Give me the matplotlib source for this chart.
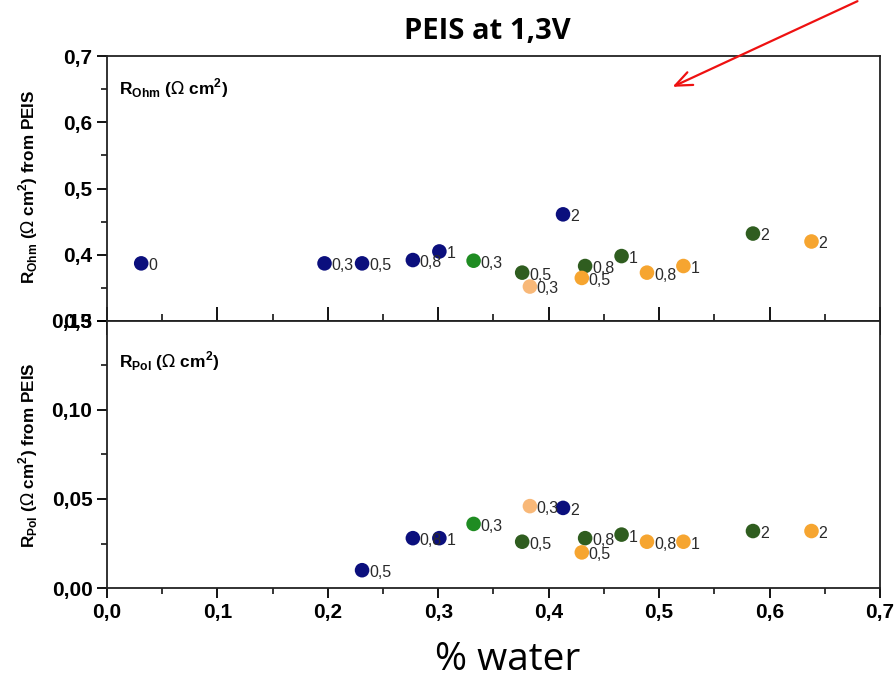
import numpy as np
from matplotlib import pyplot as plt
from matplotlib.patches import FancyArrowPatch
from matplotlib.ticker import MultipleLocator, FuncFormatter

nan = float('nan')

# % water, R_Ohm and R_Pol for each sample series; labels give the voltage step
navy_water = [0.031, 0.197, 0.231, 0.277, 0.301, 0.413]
navy_labels = ['0', '0,3', '0,5', '0,8', '1', '2']
navy_rohm = [0.387, 0.387, 0.387, 0.392, 0.405, 0.461]
navy_rpol = [nan, nan, 0.010, 0.028, 0.028, 0.045]

green_water = [0.332]
green_labels = ['0,3']
green_rohm = [0.391]
green_rpol = [0.036]

dkgreen_water = [0.376, 0.433, 0.466, 0.585]
dkgreen_labels = ['0,5', '0,8', '1', '2']
dkgreen_rohm = [0.373, 0.383, 0.398, 0.432]
dkgreen_rpol = [0.026, 0.028, 0.030, 0.032]

orange_water = [0.430, 0.489, 0.522, 0.638]
orange_labels = ['0,5', '0,8', '1', '2']
orange_rohm = [0.365, 0.373, 0.383, 0.420]
orange_rpol = [0.020, 0.026, 0.026, 0.032]

ltorange_water = [0.383]
ltorange_labels = ['0,3']
ltorange_rohm = [0.352]
ltorange_rpol = [0.046]

series = [
    (navy_water, navy_rohm, navy_rpol, navy_labels, '#0b0f7d'),
    (green_water, green_rohm, green_rpol, green_labels, '#1f8c22'),
    (dkgreen_water, dkgreen_rohm, dkgreen_rpol, dkgreen_labels, '#2f5d1f'),
    (orange_water, orange_rohm, orange_rpol, orange_labels, '#f6a530'),
    (ltorange_water, ltorange_rohm, ltorange_rpol, ltorange_labels, '#f8b878'),
]

plt.rcParams['font.family'] = ['Liberation Sans', 'DejaVu Sans']

fig = plt.figure(figsize=(8.96, 6.85), dpi=100)
fig.patch.set_facecolor('white')
left, width = 0.1194, 0.8627
ax1 = fig.add_axes([left, 0.5314, width, 0.3868])
ax2 = fig.add_axes([left, 0.1416, width, 0.3898], sharex=ax1)

comma = FuncFormatter(lambda v, p: f'{v:.1f}'.replace('.', ','))
comma2 = FuncFormatter(lambda v, p: f'{v:.2f}'.replace('.', ','))


def scatter_panel(ax, idx):
    for s in series:
        x = np.array(s[0])
        y = np.array(s[idx])
        ax.scatter(x, y, s=110, color=s[4], edgecolors='none', zorder=3)
        for xi, yi, lab in zip(x, y, s[3]):
            if np.isnan(yi):
                continue
            ax.annotate(lab, (xi, yi), xytext=(5, -5), textcoords='offset points',
                        fontsize=11.5, color='#2a2a2a', zorder=4)


scatter_panel(ax1, 1)
scatter_panel(ax2, 2)

ax1.set_xlim(0, 0.7)
ax1.set_ylim(0.3, 0.7)
ax2.set_ylim(0, 0.15)

for ax in (ax1, ax2):
    for sp in ax.spines.values():
        sp.set_linewidth(1.3)
        sp.set_color('#222222')
    ax.tick_params(which='major', length=7, width=1.3, labelsize=15)
    ax.tick_params(which='minor', length=4, width=1.1)

ax1.yaxis.set_major_locator(MultipleLocator(0.1))
ax1.yaxis.set_minor_locator(MultipleLocator(0.05))
ax1.yaxis.set_major_formatter(comma)
ax1.xaxis.set_major_locator(MultipleLocator(0.2))
ax1.xaxis.set_minor_locator(MultipleLocator(0.1))
ax1.tick_params(axis='x', which='both', direction='inout', labelbottom=False)
ax1.tick_params(axis='x', which='major', length=20)
ax1.tick_params(axis='x', which='minor', length=10)

ax2.yaxis.set_major_locator(MultipleLocator(0.05))
ax2.yaxis.set_minor_locator(MultipleLocator(0.025))
ax2.yaxis.set_major_formatter(comma2)
ax2.xaxis.set_major_locator(MultipleLocator(0.1))
ax2.xaxis.set_minor_locator(MultipleLocator(0.05))
ax2.xaxis.set_major_formatter(comma)

for ax in (ax1, ax2):
    for t in ax.get_yticklabels() + ax.get_xticklabels():
        t.set_fontweight('bold')

ax1.text(0.015, 0.88, r'R$_{\mathregular{Ohm}}$ ($\Omega$ cm$^{\mathregular{2}}$)',
         transform=ax1.transAxes, fontsize=12.5, fontweight='bold', va='center')
ax2.text(0.015, 0.85, r'R$_{\mathregular{Pol}}$ ($\Omega$ cm$^{\mathregular{2}}$)',
         transform=ax2.transAxes, fontsize=12.5, fontweight='bold', va='center')

fig.text(0.031, 0.727, r'R$_{\mathregular{Ohm}}$ ($\Omega$ cm$^{\mathregular{2}}$) from PEIS',
         rotation=90, fontsize=12.3, fontweight='bold', ha='center', va='center')
fig.text(0.031, 0.336, r'R$_{\mathregular{Pol}}$ ($\Omega$ cm$^{\mathregular{2}}$) from PEIS',
         rotation=90, fontsize=12.3, fontweight='bold', ha='center', va='center')

fig.text(0.544, 0.954, 'PEIS at 1,3V', fontsize=21, fontweight='bold',
         family=['Open Sans', 'DejaVu Sans'], ha='center', va='center')
fig.text(0.567, 0.036, '% water', fontsize=28,
         family=['Open Sans', 'DejaVu Sans'], ha='center', va='center')

# red pointer arrow at the top right
fig.patches.append(FancyArrowPatch(
    (860 / 896, 1.0), (670 / 896, 1 - 88 / 685),
    transform=fig.transFigure, arrowstyle='->,head_length=12,head_width=5',
    color='#ee1111', lw=1.6, mutation_scale=1))

fig.savefig('out.png', dpi=100)
